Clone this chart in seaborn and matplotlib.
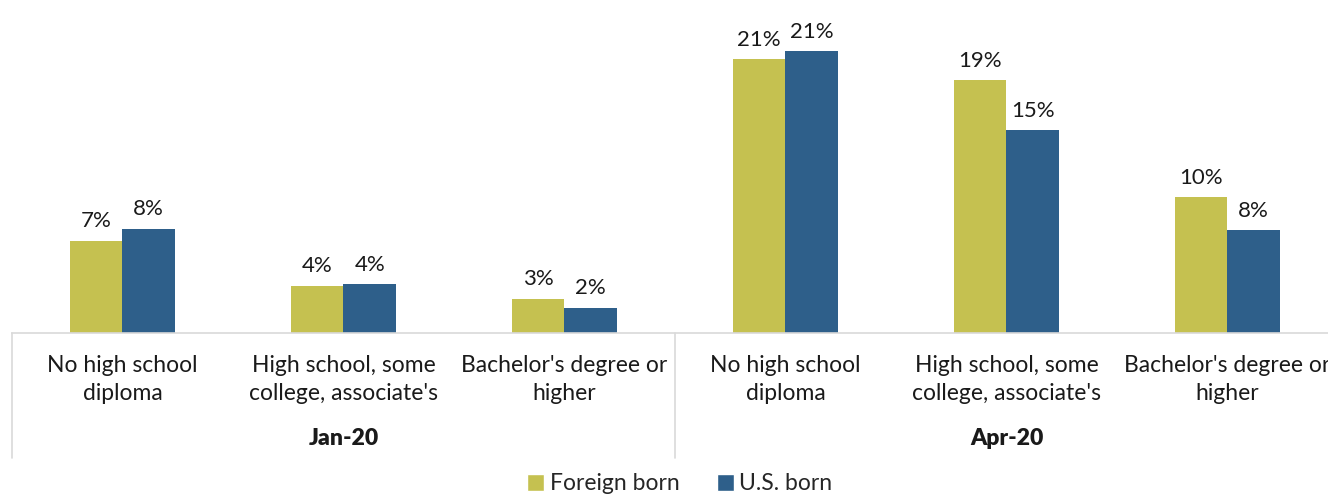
import pandas as pd
import seaborn as sns
import matplotlib.pyplot as plt
import matplotlib.transforms as mtransforms
from matplotlib.patches import Patch

periods = ["Jan-20", "Jan-20", "Jan-20", "Apr-20", "Apr-20", "Apr-20"]
education = ["No high school\ndiploma", "High school, some\ncollege, associate's",
             "Bachelor's degree or\nhigher"] * 2
foreign_born = [7.0, 3.6, 2.6, 20.8, 19.2, 10.3]
us_born = [7.9, 3.7, 1.9, 21.4, 15.4, 7.8]
series = ["Foreign born", "U.S. born"]
colors = ["#C5C150", "#2E5F8A"]

keys = [f"{p}|{e}" for p, e in zip(periods, education)]
rows = []
for k, f, u in zip(keys, foreign_born, us_born):
    rows.append([k, series[0], f])
    rows.append([k, series[1], u])
df = pd.DataFrame(rows, columns=["cat", "nativity", "rate"])

sns.set_style("white")
plt.rcParams["font.family"] = ["Lato", "DejaVu Sans"]

fig = plt.figure(figsize=(13.28, 4.95), dpi=100)
ax = fig.add_axes([12 / 1328, 162 / 495, 1326 / 1328, 333 / 495])
sns.barplot(data=df, x="cat", y="rate", hue="nativity", order=keys,
            hue_order=series, palette=colors, width=0.475, saturation=1,
            edgecolor="none", legend=False, ax=ax)

for c in ax.containers:
    ax.bar_label(c, fmt=lambda v: f"{v:.0f}%", padding=7, fontsize=16, color="#1a1a1a")

ax.set_xlim(-0.5, 5.5)
ax.set_ylim(0, 25.3)
ax.set_xlabel("")
ax.set_ylabel("")
ax.set_yticks([])
ax.set_xticks(range(6))
ax.set_xticklabels(education, fontsize=16.5, color="#1a1a1a", linespacing=1.42)
ax.tick_params(axis="x", length=0, pad=16)
for s in ["top", "right", "left"]:
    ax.spines[s].set_visible(False)
ax.spines["bottom"].set_color("#d9d9d9")
ax.spines["bottom"].set_linewidth(1.2)

trans = mtransforms.blended_transform_factory(ax.transData, ax.transAxes)
for x in [-0.5, 2.5]:
    ax.plot([x, x], [0, -0.375], transform=trans, color="#d9d9d9", lw=1.2, clip_on=False)
for x, p in [(1, "Jan-20"), (4, "Apr-20")]:
    ax.text(x, -0.318, p, transform=trans, ha="center", va="center",
            fontsize=16.5, fontweight="heavy", color="#1a1a1a")

handles = [Patch(facecolor=col, label=s) for col, s in zip(colors, series)]
fig.legend(handles=handles, loc="lower center", bbox_to_anchor=(0.512, -0.04), ncol=2,
           frameon=False, fontsize=16.5, handlelength=0.75, handleheight=0.75,
           handletextpad=0.25, columnspacing=1.6)

fig.savefig("out.png", dpi=100)
